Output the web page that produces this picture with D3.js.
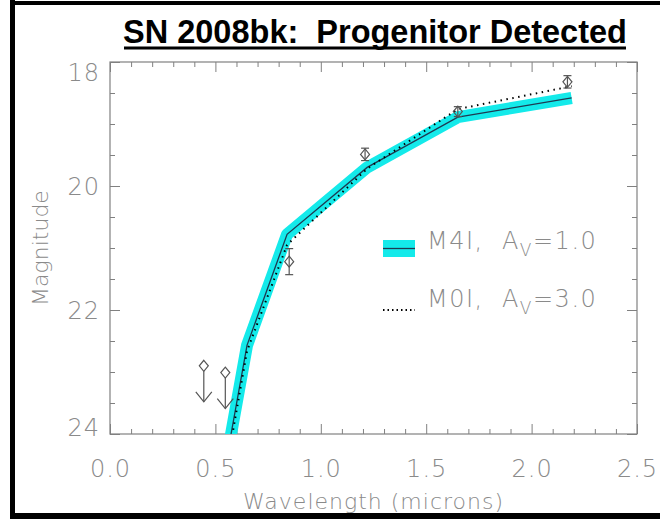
<!DOCTYPE html>
<html>
<head>
<meta charset="utf-8">
<script src="https://cdn.jsdelivr.net/npm/d3@7"></script>
<style>
  body { margin: 0; background: #fff; }
  text { font-family: "DejaVu Sans", sans-serif; font-weight: 200; fill: #8a8a8a; }
</style>
</head>
<body>
<div id="chart"></div>
<script>
// values
var bands = [0.55, 0.65, 0.84, 1.22, 1.65, 2.19];
var m4i = [24.46, 22.57, 20.78, 19.70, 18.89, 18.58];
var m0i = [24.60, 22.66, 20.95, 19.72, 18.76, 18.39];

var detWave = [0.85, 1.21, 1.65, 2.17];
var detMag = [21.22, 19.49, 18.80, 18.32];
var detErr = [0.21, 0.10, 0.08, 0.10];

var limWave = [0.445, 0.547];
var limMag = [22.90, 23.01];

var xMajor = [0, 0.5, 1.0, 1.5, 2.0, 2.5];
var yMajor = [18, 20, 22, 24];

var margin = { top: 62, right: 23, bottom: 85, left: 110 },
  width = 660 - margin.left - margin.right,
  height = 519 - margin.top - margin.bottom;

var root = d3.select("#chart")
  .append("svg")
  .attr("width", 660)
  .attr("height", 519);

// black frame of the slide
root.append("rect").attr("x", 10).attr("y", 0).attr("width", 5).attr("height", 519).attr("fill", "#000");
root.append("rect").attr("x", 10).attr("y", 1).attr("width", 650).attr("height", 4).attr("fill", "#000");
root.append("rect").attr("x", 10).attr("y", 513).attr("width", 650).attr("height", 6).attr("fill", "#000");

// title
root.append("text")
  .attr("x", 375)
  .attr("y", 43)
  .attr("text-anchor", "middle")
  .attr("xml:space", "preserve")
  .style("font-family", "'Liberation Sans', Arial, sans-serif")
  .style("font-weight", "bold")
  .style("font-size", "32.5px")
  .style("fill", "#000")
  .text("SN 2008bk:  Progenitor Detected");
root.append("line")
  .attr("x1", 124).attr("x2", 626)
  .attr("y1", 48).attr("y2", 48)
  .attr("stroke", "#000").attr("stroke-width", 3);

var svg = root.append("g")
  .attr("transform", "translate(" + margin.left + "," + margin.top + ")");

var x = d3.scaleLinear().domain([0, 2.5]).range([0, width]);
var y = d3.scaleLinear().domain([18, 24]).range([0, height]);

var xMinor = d3.range(0, 2.501, 0.1).filter(function (v) { return Math.abs(v * 2 - Math.round(v * 2)) > 1e-6; });
var yMinor = d3.range(18, 24.01, 0.5).filter(function (v) { return v % 2 !== 0; });

function styleAxis(g) {
  g.select(".domain").remove();
  g.selectAll("line").attr("stroke", "#808080");
  g.selectAll("text").style("font-size", "24px").style("fill", "#8a8a8a")
    .style("font-family", "'DejaVu Sans', sans-serif").style("letter-spacing", "1px");
}

// bottom axis
svg.append("g")
  .attr("transform", "translate(0," + height + ")")
  .call(d3.axisBottom(x).tickValues(xMajor).tickSize(-10).tickPadding(26).tickFormat(d3.format(".1f")))
  .call(styleAxis);
svg.append("g")
  .attr("transform", "translate(0," + height + ")")
  .call(d3.axisBottom(x).tickValues(xMinor).tickSize(-5).tickFormat(""))
  .call(styleAxis);
// top axis
svg.append("g")
  .call(d3.axisTop(x).tickValues(xMajor).tickSize(-10).tickFormat(""))
  .call(styleAxis);
svg.append("g")
  .call(d3.axisTop(x).tickValues(xMinor).tickSize(-5).tickFormat(""))
  .call(styleAxis);
// left axis
var yl = svg.append("g")
  .call(d3.axisLeft(y).tickValues(yMajor).tickSize(-10).tickPadding(10).tickFormat(d3.format("d")))
  .call(styleAxis);
yl.selectAll(".tick text")
  .attr("dy", function (d) { return d === 18 ? "0.75em" : d === 24 ? "0.05em" : "0.35em"; });
svg.append("g")
  .call(d3.axisLeft(y).tickValues(yMinor).tickSize(-5).tickFormat(""))
  .call(styleAxis);
// right axis
svg.append("g")
  .attr("transform", "translate(" + width + ",0)")
  .call(d3.axisRight(y).tickValues(yMajor).tickSize(-10).tickFormat(""))
  .call(styleAxis);
svg.append("g")
  .attr("transform", "translate(" + width + ",0)")
  .call(d3.axisRight(y).tickValues(yMinor).tickSize(-5).tickFormat(""))
  .call(styleAxis);

svg.append("rect")
  .attr("width", width).attr("height", height)
  .attr("fill", "none").attr("stroke", "#808080").attr("stroke-width", 1.2);

// axis titles
svg.append("text")
  .attr("x", width / 2)
  .attr("y", height + 75)
  .attr("text-anchor", "middle")
  .style("font-size", "22px")
  .style("letter-spacing", "1px")
  .text("Wavelength (microns)");
svg.append("text")
  .attr("transform", "translate(" + (-62) + "," + (height / 2) + ") rotate(-90)")
  .attr("text-anchor", "middle")
  .style("font-size", "22px")
  .text("Magnitude");

// clip for model lines
svg.append("clipPath").attr("id", "plotclip")
  .append("rect").attr("width", width).attr("height", height);

var line = d3.line()
  .x(function (d) { return x(d[0]); })
  .y(function (d) { return y(d[1]); });

var m4iPts = d3.zip(bands, m4i);
var m0iPts = d3.zip(bands, m0i);

var models = svg.append("g").attr("clip-path", "url(#plotclip)");
models.append("path")
  .attr("d", line(m4iPts))
  .attr("fill", "none")
  .attr("stroke", "#14eaea")
  .attr("stroke-width", 12)
  .attr("stroke-linejoin", "round");
models.append("path")
  .attr("d", line(m4iPts))
  .attr("fill", "none")
  .attr("stroke", "#1d3a52")
  .attr("stroke-width", 1.3);
models.append("path")
  .attr("d", line(m0iPts))
  .attr("fill", "none")
  .attr("stroke", "#000")
  .attr("stroke-width", 2)
  .attr("stroke-dasharray", "1.5,4.5");

function diamond(g, cx, cy) {
  g.append("path")
    .attr("d", "M" + cx + "," + (cy - 5.5) + "L" + (cx + 4.5) + "," + cy + "L" + cx + "," + (cy + 5.5) + "L" + (cx - 4.5) + "," + cy + "Z")
    .attr("fill", "none")
    .attr("stroke", "#555")
    .attr("stroke-width", 1.2);
}

// detections with error bars
var det = svg.append("g");
detWave.forEach(function (w, i) {
  var cx = x(w), lo = y(detMag[i] - detErr[i]), hi = y(detMag[i] + detErr[i]);
  det.append("line").attr("x1", cx).attr("x2", cx).attr("y1", lo).attr("y2", hi).attr("stroke", "#555").attr("stroke-width", 1.2);
  det.append("line").attr("x1", cx - 4).attr("x2", cx + 4).attr("y1", lo).attr("y2", lo).attr("stroke", "#555").attr("stroke-width", 1.2);
  det.append("line").attr("x1", cx - 4).attr("x2", cx + 4).attr("y1", hi).attr("y2", hi).attr("stroke", "#555").attr("stroke-width", 1.2);
  diamond(det, cx, y(detMag[i]));
});

// upper limits
var lim = svg.append("g");
limWave.forEach(function (w, i) {
  var cx = x(w), cy = y(limMag[i]), tip = y(limMag[i] + 0.58);
  diamond(lim, cx, cy);
  lim.append("line").attr("x1", cx).attr("x2", cx).attr("y1", cy + 5.5).attr("y2", tip).attr("stroke", "#555").attr("stroke-width", 1.2);
  lim.append("path")
    .attr("d", "M" + (cx - 8) + "," + (tip - 10) + "L" + cx + "," + tip + "L" + (cx + 8) + "," + (tip - 10))
    .attr("fill", "none").attr("stroke", "#555").attr("stroke-width", 1.2);
});

// legend
var leg = svg.append("g").attr("transform", "translate(" + (383 - margin.left) + "," + (240 - margin.top) + ")");
leg.append("rect").attr("width", 32).attr("height", 17).attr("fill", "#14eaea");
leg.append("line").attr("x1", 0).attr("x2", 32).attr("y1", 8.5).attr("y2", 8.5).attr("stroke", "#1d3a52").attr("stroke-width", 1.3);
leg.append("line").attr("x1", 0).attr("x2", 32).attr("y1", 70).attr("y2", 70)
  .attr("stroke", "#000").attr("stroke-width", 2).attr("stroke-dasharray", "1.5,3");

var legendLabels = [["M4I,  A", "V", "=1.0"], ["M0I,  A", "V", "=3.0"]];
legendLabels.forEach(function (lab, i) {
  var t = leg.append("text")
    .attr("x", 44)
    .attr("y", 9 + i * 58)
    .attr("xml:space", "preserve")
    .style("font-size", "24px")
    .style("letter-spacing", "1.5px");
  t.append("tspan").text(lab[0]);
  t.append("tspan").attr("dy", 7).style("font-size", "17px").text(lab[1]);
  t.append("tspan").attr("dy", -7).text(lab[2]);
});
</script>
</body>
</html>
